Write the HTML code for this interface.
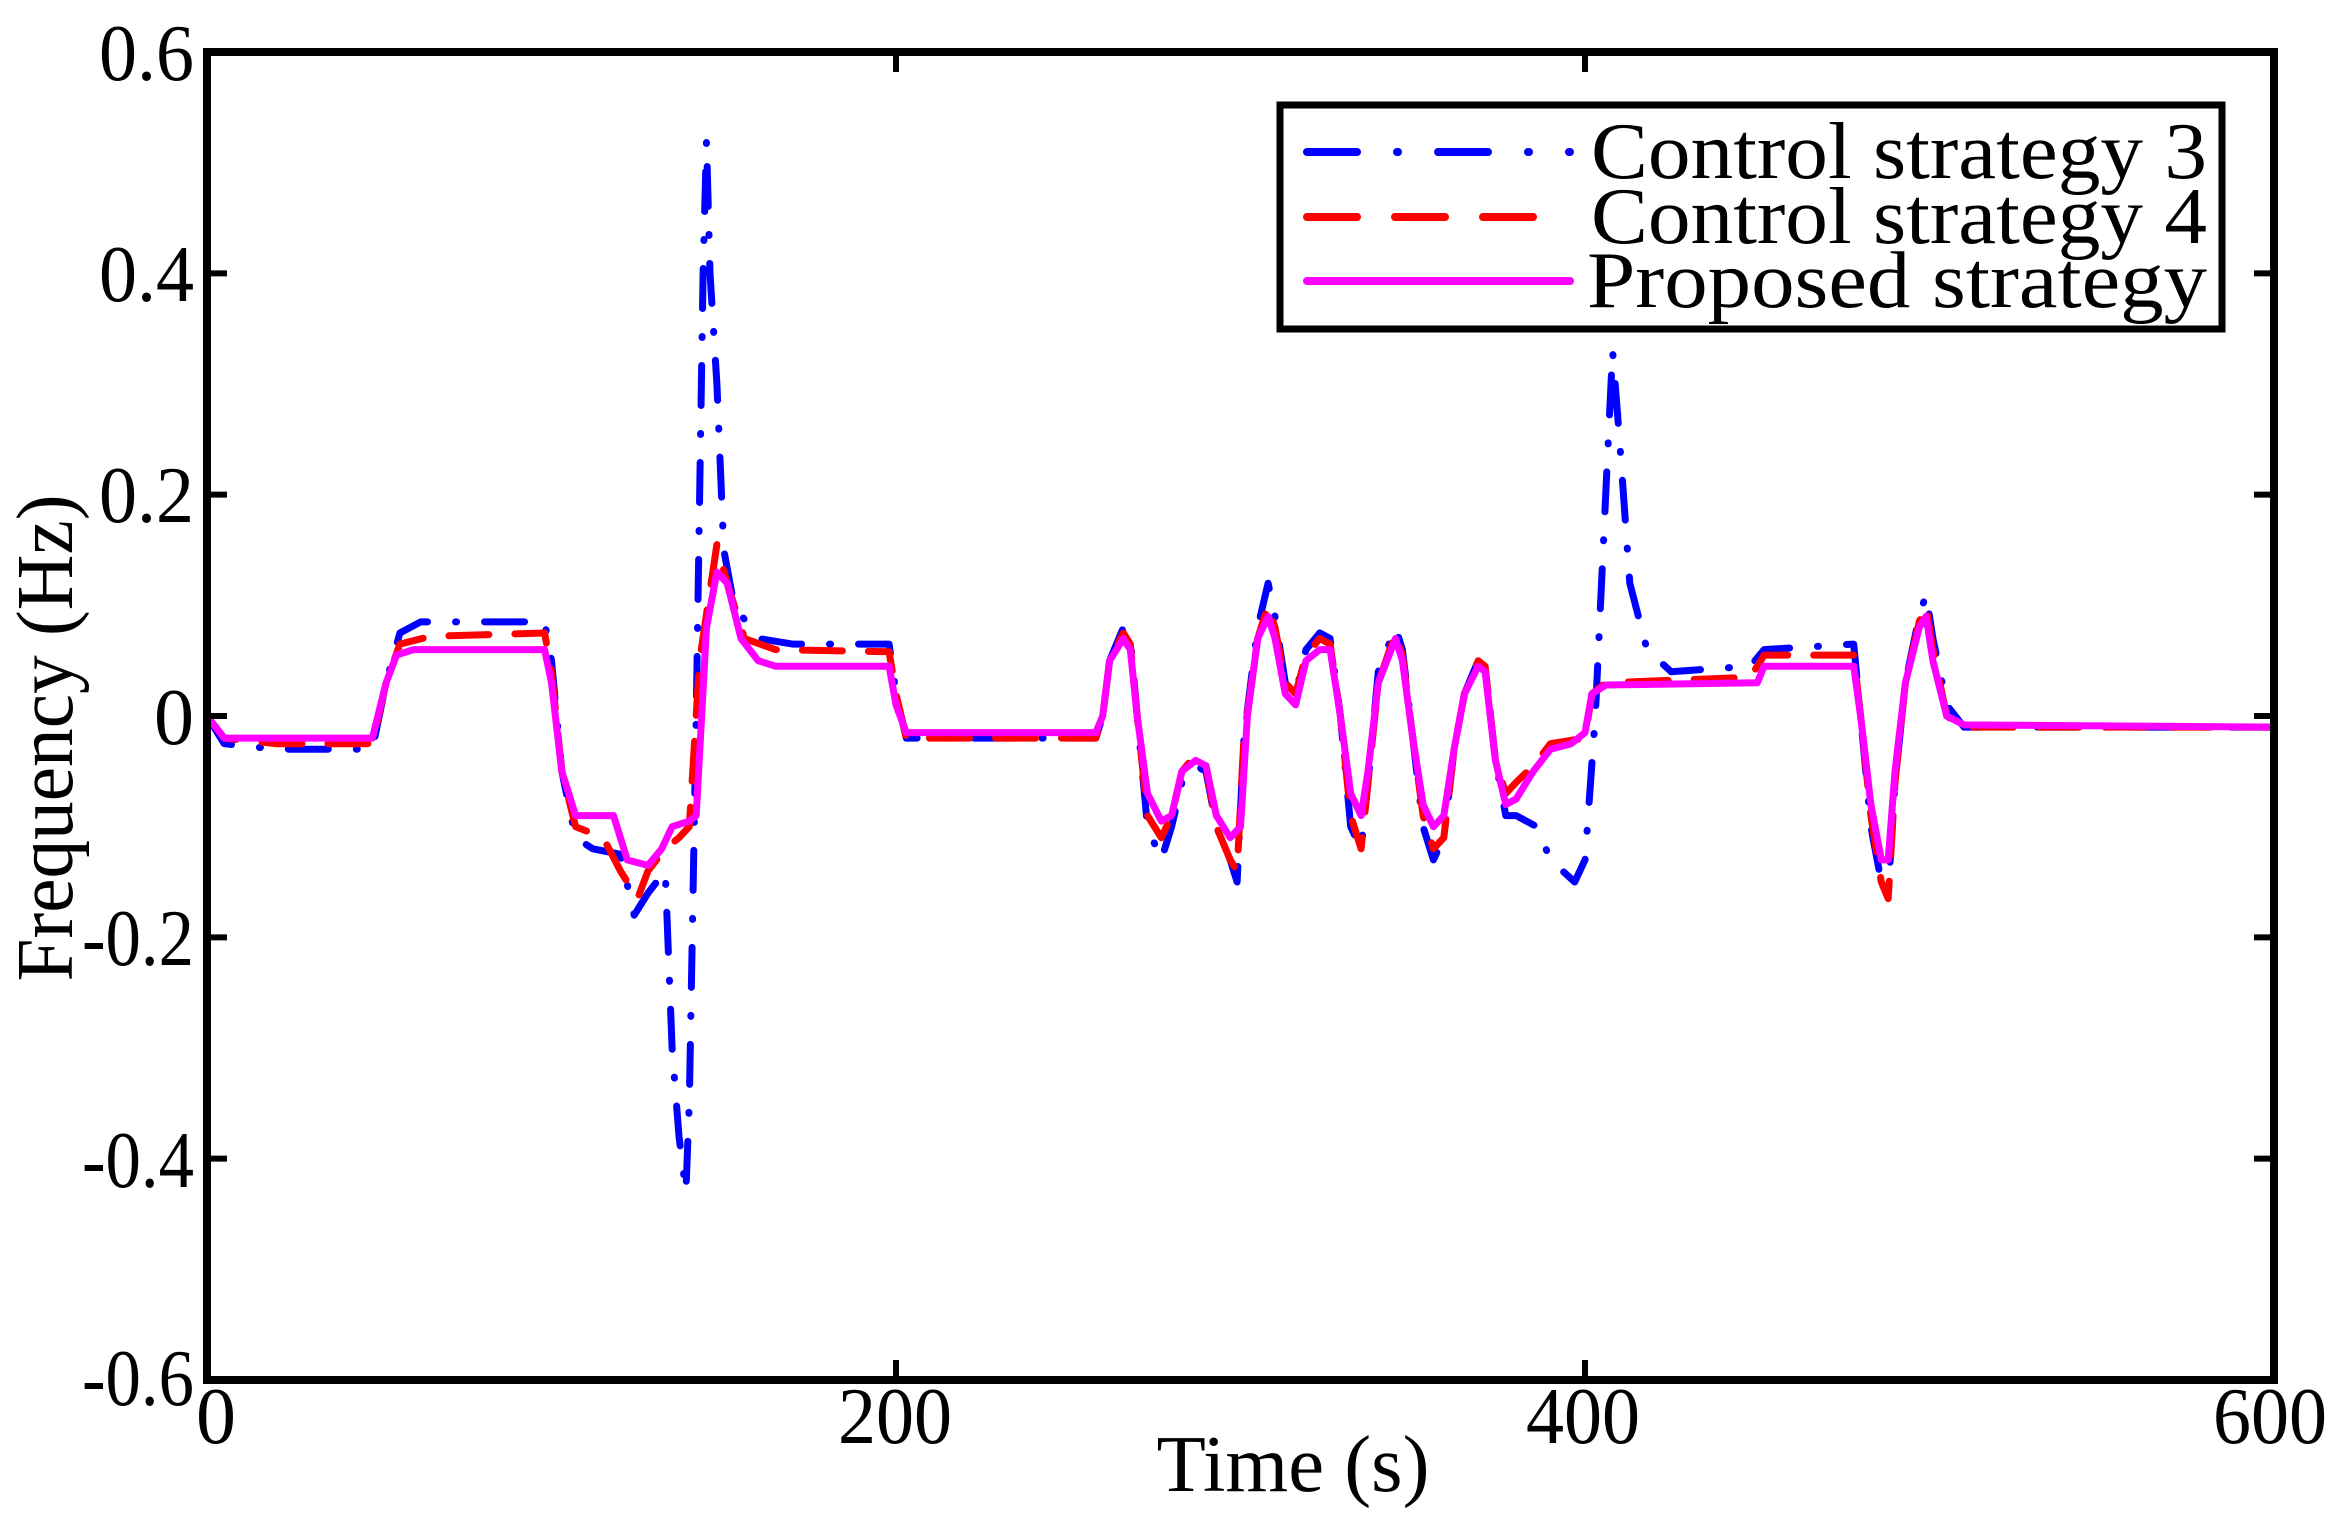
<!DOCTYPE html>
<html><head><meta charset="utf-8"><style>
html,body{margin:0;padding:0;background:#fff;}
svg text{font-family:"Liberation Serif",serif;fill:#000;}
</style></head><body>
<svg id="s" width="2347" height="1529" viewBox="0 0 2347 1529" xmlns="http://www.w3.org/2000/svg">
<rect width="2347" height="1529" fill="#fff"/>
<g id="series" fill="none" stroke-linejoin="round" stroke-linecap="round"></g>
<rect x="207" y="52" width="2067" height="1328" fill="none" stroke="#000" stroke-width="8"/>
<g id="ticks" stroke="#000" stroke-width="6"></g>
<g font-size="80" text-anchor="end" lengthAdjust="spacingAndGlyphs">
<text x="194" y="80" textLength="95" lengthAdjust="spacingAndGlyphs">0.6</text>
<text x="194" y="301" textLength="95" lengthAdjust="spacingAndGlyphs">0.4</text>
<text x="194" y="522" textLength="95" lengthAdjust="spacingAndGlyphs">0.2</text>
<text x="194" y="744">0</text>
<text x="194" y="965" textLength="112" lengthAdjust="spacingAndGlyphs">-0.2</text>
<text x="194" y="1187" textLength="112" lengthAdjust="spacingAndGlyphs">-0.4</text>
<text x="194" y="1405" textLength="112" lengthAdjust="spacingAndGlyphs">-0.6</text>
</g>
<g font-size="80" text-anchor="middle">
<text x="216" y="1443">0</text>
<text x="895" y="1443" textLength="114" lengthAdjust="spacingAndGlyphs">200</text>
<text x="1583" y="1443" textLength="114" lengthAdjust="spacingAndGlyphs">400</text>
<text x="2270" y="1443" textLength="114" lengthAdjust="spacingAndGlyphs">600</text>
<text x="1293" y="1491" textLength="273" lengthAdjust="spacingAndGlyphs">Time (s)</text>
<text transform="translate(72,738) rotate(-90)" textLength="487" lengthAdjust="spacingAndGlyphs">Frequency (Hz)</text>
</g>
<rect x="1280" y="105" width="942" height="224" fill="#fff" stroke="#000" stroke-width="7"/>
<line x1="1307" y1="152" x2="1570" y2="152" stroke="#00f" stroke-width="8" stroke-linecap="round" stroke-dasharray="50,40,1,40,50,40,1,40"/>
<line x1="1307" y1="217" x2="1570" y2="217" stroke="#f00" stroke-width="8" stroke-linecap="round" stroke-dasharray="50,38"/>
<line x1="1307" y1="281" x2="1570" y2="281" stroke="#f0f" stroke-width="8" stroke-linecap="round"/>
<g font-size="80" text-anchor="start">
<text x="1591" y="178" textLength="616" lengthAdjust="spacingAndGlyphs">Control strategy 3</text>
<text x="1591" y="243" textLength="616" lengthAdjust="spacingAndGlyphs">Control strategy 4</text>
<text x="1587" y="307" textLength="620" lengthAdjust="spacingAndGlyphs">Proposed strategy</text>
</g>
</svg>
<script>
var X=function(t){return 207+t*2067/600;},Y=function(v){return 716-v*1328/1.2;};
var ticks=document.getElementById('ticks');
var h='';
[0,200,400,600].forEach(function(t){var x=X(t);h+='<line x1="'+x+'" y1="1380" x2="'+x+'" y2="1360"/><line x1="'+x+'" y1="52" x2="'+x+'" y2="72"/>';});
[-0.6,-0.4,-0.2,0,0.2,0.4,0.6].forEach(function(v){var y=Y(v);h+='<line x1="207" y1="'+y+'" x2="227" y2="'+y+'"/><line x1="2274" y1="'+y+'" x2="2254" y2="'+y+'"/>';});
ticks.innerHTML=h;
var blue=[[0,0],[5,-0.025],[20,-0.03],[48,-0.03],[52,0.03],[56,0.075],[62,0.085],[98,0.085],[100,0.05],[103,-0.05],[107,-0.11],[112,-0.12],[120,-0.125],[124,-0.18],[128,-0.16],[133,-0.14],[135,-0.3],[137,-0.38],[139,-0.43],[140,-0.35],[142,0],[144,0.4],[145,0.52],[146,0.4],[148,0.3],[150,0.15],[153,0.1],[160,0.07],[170,0.065],[198,0.065],[200,0.02],[203,-0.02],[258,-0.02],[260,0],[262,0.05],[266,0.08],[268,0.07],[270,0],[273,-0.1],[277,-0.13],[280,-0.1],[283,-0.06],[287,-0.045],[290,-0.05],[293,-0.1],[297,-0.13],[299,-0.15],[301,-0.02],[305,0.08],[308,0.12],[310,0.09],[313,0.03],[316,0.02],[319,0.06],[323,0.075],[326,0.07],[329,0],[332,-0.1],[335,-0.12],[337,-0.06],[340,0.04],[345,0.08],[347,0.06],[350,-0.02],[353,-0.1],[356,-0.13],[359,-0.11],[362,-0.03],[365,0.02],[369,0.05],[371,0.045],[374,-0.04],[377,-0.09],[380,-0.09],[386,-0.1],[390,-0.13],[397,-0.15],[400,-0.13],[403,0],[406,0.2],[408,0.33],[410,0.25],[413,0.12],[418,0.06],[425,0.04],[448,0.045],[452,0.06],[478,0.065],[480,0],[483,-0.1],[486,-0.15],[488,-0.16],[490,-0.06],[493,0.03],[497,0.09],[499,0.11],[501,0.07],[505,0.01],[510,-0.01],[600,-0.01]];
var red=[[0,0],[5,-0.02],[20,-0.025],[48,-0.025],[52,0.03],[56,0.065],[65,0.072],[98,0.075],[100,0.04],[103,-0.05],[107,-0.1],[115,-0.11],[120,-0.14],[125,-0.165],[128,-0.14],[133,-0.12],[137,-0.11],[140,-0.1],[143,0.05],[148,0.155],[151,0.12],[156,0.07],[165,0.06],[198,0.058],[200,0.02],[203,-0.02],[258,-0.02],[260,0],[262,0.05],[266,0.075],[268,0.065],[270,0],[273,-0.09],[277,-0.11],[280,-0.09],[283,-0.05],[287,-0.035],[290,-0.045],[293,-0.1],[297,-0.13],[299,-0.14],[301,-0.02],[305,0.07],[308,0.1],[310,0.08],[313,0.03],[316,0.02],[319,0.055],[323,0.07],[326,0.065],[329,0],[332,-0.09],[335,-0.12],[337,-0.06],[340,0.03],[345,0.075],[347,0.055],[350,-0.02],[353,-0.09],[356,-0.12],[359,-0.11],[362,-0.03],[365,0.02],[369,0.05],[371,0.045],[374,-0.04],[377,-0.07],[380,-0.06],[385,-0.045],[390,-0.025],[400,-0.02],[402,0.02],[406,0.03],[448,0.035],[452,0.055],[478,0.055],[480,0],[483,-0.09],[486,-0.15],[488,-0.165],[490,-0.06],[493,0.03],[497,0.085],[499,0.1],[501,0.06],[505,0],[510,-0.01],[600,-0.01]];
var mag=[[0,0],[5,-0.02],[48,-0.02],[52,0.03],[55,0.055],[60,0.06],[98,0.06],[100,0.03],[103,-0.05],[107,-0.09],[118,-0.09],[122,-0.13],[128,-0.135],[132,-0.12],[135,-0.1],[140,-0.095],[142,-0.09],[145,0.08],[148,0.13],[151,0.12],[155,0.07],[160,0.05],[165,0.045],[198,0.045],[200,0.01],[203,-0.015],[258,-0.015],[260,0],[262,0.05],[266,0.07],[268,0.06],[270,0],[273,-0.07],[277,-0.095],[280,-0.09],[283,-0.05],[287,-0.04],[290,-0.045],[293,-0.09],[297,-0.11],[300,-0.1],[302,0],[305,0.07],[308,0.09],[310,0.07],[313,0.02],[316,0.01],[319,0.05],[323,0.06],[326,0.06],[329,0],[332,-0.07],[335,-0.09],[337,-0.05],[340,0.03],[345,0.07],[347,0.05],[350,-0.02],[353,-0.08],[356,-0.1],[359,-0.09],[362,-0.03],[365,0.02],[369,0.045],[371,0.04],[374,-0.04],[377,-0.08],[380,-0.075],[385,-0.05],[390,-0.03],[396,-0.025],[400,-0.015],[402,0.02],[406,0.028],[450,0.03],[452,0.045],[478,0.045],[480,0],[483,-0.08],[486,-0.13],[488,-0.13],[490,-0.05],[493,0.03],[497,0.08],[499,0.09],[501,0.05],[505,0],[510,-0.008],[600,-0.01]];
function p(d){return 'M'+d.map(function(a){return X(a[0]).toFixed(1)+','+Y(a[1]).toFixed(1);}).join('L');}
document.getElementById('series').innerHTML=
'<path d="'+p(blue)+'" stroke="#00f" stroke-width="7" stroke-dasharray="40,28,1,28"/>'+
'<path d="'+p(red)+'" stroke="#f00" stroke-width="7" stroke-dasharray="40,26"/>'+
'<path d="'+p(mag)+'" stroke="#f0f" stroke-width="7"/>';
</script>
</body></html>
